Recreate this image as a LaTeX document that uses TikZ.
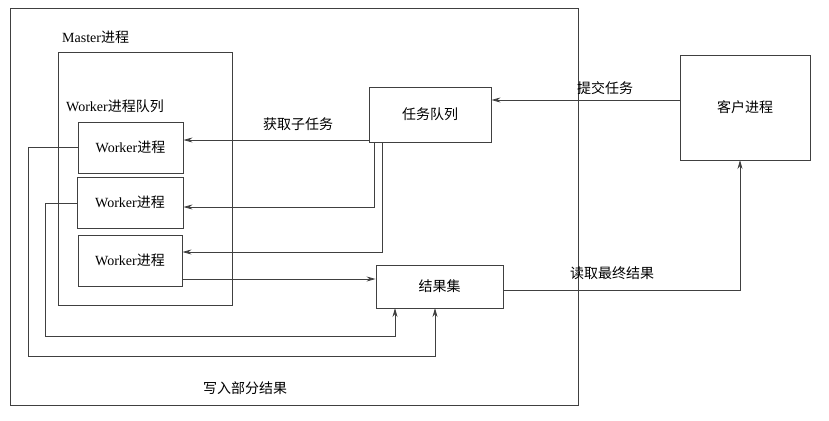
\documentclass[tikz,border=0pt]{standalone}
\usepackage{fontspec}
\usetikzlibrary{arrows.meta}
\setmainfont{Liberation Serif}
\newfontfamily\cjk{Noto Sans CJK SC}
\begin{document}
\begin{tikzpicture}[x=1pt,y=-1pt,
  box/.style={draw=black!75,line width=0.9pt,inner sep=0pt},
  ln/.style={draw=black!75,line width=0.8pt},
  arr/.style={ln,-{Stealth[length=9pt,width=5pt]}},
  lbl/.style={font=\fontsize{14}{16}\selectfont},
  clbl/.style={font=\cjk\fontsize{14}{16}\selectfont}]
\useasboundingbox (0,0) rectangle (829,420);
\draw[box] (10,8) rectangle (578,405);
\draw[box] (58,52) rectangle (232,305);
\node[lbl,anchor=west,inner sep=0pt] (ml) at (62,37) {Master{\cjk 进程}};
\node[lbl,anchor=west,inner sep=0pt] (wl) at (66,106) {Worker{\cjk 进程队列}};
\node[box,minimum width=105pt,minimum height=51pt,lbl] (w1) at (130.5,147.5) {Worker{\cjk 进程}};
\node[box,minimum width=106pt,minimum height=51pt,lbl] (w2) at (130,202.5) {Worker{\cjk 进程}};
\node[box,minimum width=104pt,minimum height=51pt,lbl] (w3) at (130,260.5) {Worker{\cjk 进程}};
\node[box,minimum width=122pt,minimum height=55pt,clbl] (tq) at (430,114.5) {任务队列};
\node[box,minimum width=127pt,minimum height=43pt,clbl] (rs) at (439.5,286.5) {结果集};
\node[box,minimum width=130pt,minimum height=105pt,clbl] (cl) at (745,107.5) {客户进程};
\coordinate (t1) at (369,140);
\draw[arr] (t1) -- (w1.east |- t1);
\draw[arr] (374,142) |- (w2.east |- 0,207);
\draw[arr] (382,142) |- (w3.east |- 0,252);
\draw[arr] (w3.east |- 0,279) -- (rs.west |- 0,279);
\draw[arr] (w1.west |- 0,147) -| (28,356) -| (435,308);
\draw[arr] (w2.west |- 0,203) -| (45,336) -| (395,308);
\draw[arr] (cl.west |- 0,100) -- (tq.east |- 0,100);
\draw[arr] (rs.east |- 0,290) -| (740,160);
\node[clbl] (a) at (605,88) {提交任务};
\node[clbl] (b) at (298,124) {获取子任务};
\node[clbl] (c) at (612,273) {读取最终结果};
\node[clbl] (d) at (245,388) {写入部分结果};
\end{tikzpicture}
\end{document}
